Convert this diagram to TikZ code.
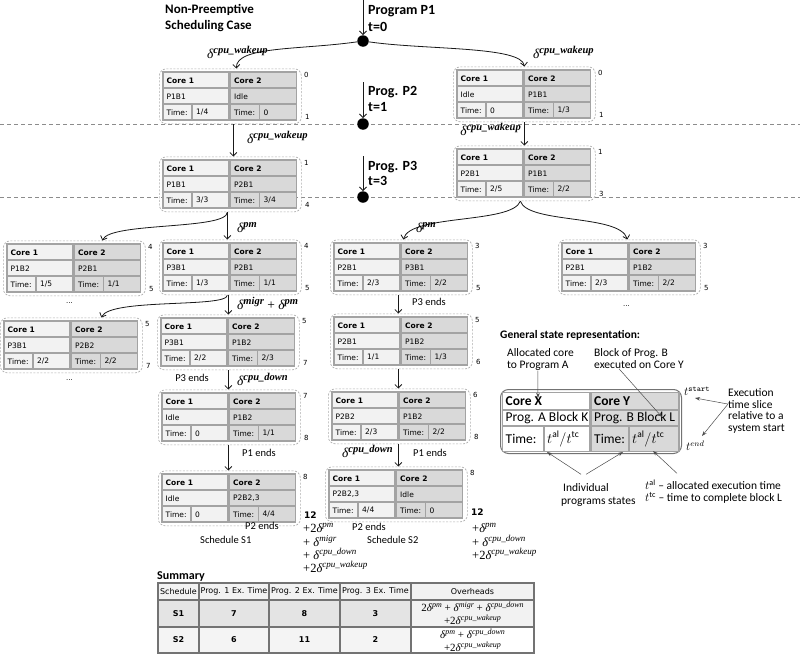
\documentclass[tikz,border=0pt]{standalone}
\usepackage{fontspec}
\setmainfont{Carlito}
\newfontfamily\cellfont{DejaVu Sans}
\newfontfamily\dfont{Liberation Serif}
\usetikzlibrary{arrows.meta,calc}
\definecolor{cA}{HTML}{F2F2F2}
\definecolor{cB}{HTML}{D9D9D9}
\definecolor{cline}{HTML}{A3A3A3}
\definecolor{odash}{HTML}{ADADAD}
\definecolor{hdash}{HTML}{8C8C8C}
\definecolor{sumA}{HTML}{E4E4E4}
\definecolor{sumB}{HTML}{F4F4F4}

\newcommand{\dlt}[1]{{\dfont\fontsize{13.5}{13.5}\selectfont\itshape δ\raisebox{5pt}{\fontsize{10.5}{10.5}\selectfont\bfseries\itshape #1}}}
\newcommand{\ovl}[2]{{\dfont\fontsize{11}{11}\selectfont #1\textit{δ}\raisebox{4pt}{\fontsize{8}{8}\selectfont\itshape #2}}}
\newcommand{\ovb}[2]{{\dfont\fontsize{12.5}{12.5}\selectfont #1\textit{δ}\raisebox{4.5pt}{\fontsize{9}{9}\selectfont\itshape #2}}}
\newcommand{\cellsz}{\cellfont\fontsize{7.5}{9}\selectfont}

\newcommand{\stbox}[9]{%
  \node[obox,anchor=north west] (#1) at (#2-4,#3-3.5) {};
  \fill[cA] (#2,#3) rectangle ++(66,48);
  \fill[cB] (#2+67.5,#3) rectangle ++(66,48);
  \draw[cl] (#2,#3) rectangle ++(66,48) (#2,#3+16) -- ++(66,0) (#2,#3+32) -- ++(66,0) (#2+29,#3+32) -- ++(0,16);
  \draw[cl] (#2+67.5,#3) rectangle ++(66,48) (#2+67.5,#3+16) -- ++(66,0) (#2+67.5,#3+32) -- ++(66,0) (#2+96.5,#3+32) -- ++(0,16);
  \node[ct,font=\cellsz\bfseries] (#1h1) at (#2+3.5,#3+8.5) {Core 1};
  \node[ct] (#1p1) at (#2+3.5,#3+24.5) {#4};
  \node[ct] (#1t1) at (#2+3.5,#3+40.5) {Time:};
  \node[ct] (#1v1) at (#2+33,#3+40.5) {#5};
  \node[ct,font=\cellsz\bfseries] (#1h2) at (#2+71,#3+8.5) {Core 2};
  \node[ct] (#1p2) at (#2+71,#3+24.5) {#6};
  \node[ct] (#1t2) at (#2+71,#3+40.5) {Time:};
  \node[ct] (#1v2) at (#2+100.5,#3+40.5) {#7};
  \node[nt] (#1s) at (#2+141,#3+3) {#8};
  \node[nt] (#1e) at (#2+142,#3+45) {#9};
}

\begin{document}
\begin{tikzpicture}[x=1pt,y=-1pt,
 obox/.style={draw=odash,line width=0.7pt,dash pattern=on 2pt off 1.5pt,rounded corners=7pt,minimum width=142pt,minimum height=55pt,inner sep=0pt},
 cl/.style={draw=cline,line width=1.3pt},
 ct/.style={anchor=west,inner sep=0pt,font=\cellsz},
 nt/.style={anchor=west,inner sep=0pt,font=\cellfont\fontsize{7}{8}\selectfont},
 arr/.style={draw=black!90,line width=0.8pt,-{Straight Barb[length=3.5pt,width=7pt]}},
 larr/.style={draw=black!70,line width=0.5pt,-{Stealth[length=5pt,width=3.5pt]}},
 hd/.style={draw=hdash,line width=0.8pt,dash pattern=on 4pt off 3pt},
 dot/.style={circle,fill=black,minimum size=11.5pt,inner sep=0pt},
 big/.style={anchor=base west,inner sep=0pt,font=\fontsize{14}{16}\selectfont\bfseries},
 ttl/.style={anchor=base west,inner sep=0pt,font=\fontsize{13}{15}\selectfont\bfseries},
 lb/.style={anchor=west,inner sep=0pt,font=\fontsize{10.5}{12}\selectfont},
 lg/.style={anchor=base west,inner sep=0pt,font=\fontsize{11.5}{13}\selectfont},
 lt/.style={anchor=west,inner sep=0pt,font=\fontsize{13.5}{15}\selectfont},
 dl/.style={anchor=west,inner sep=0pt},
 stk/.style={anchor=west,inner sep=0pt},
 th/.style={inner sep=0pt,font=\cellfont\fontsize{8}{9}\selectfont},
 tb/.style={inner sep=0pt,font=\cellfont\fontsize{8}{9}\selectfont\bfseries},
 tl/.style={draw=black!55,line width=1.2pt},
]
\fill[white] (0,0) rectangle (800,656);
\useasboundingbox (0,0) rectangle (800,656);

% timeline
\coordinate (h1a) at (0,124); \coordinate (h1b) at (800,124);
\coordinate (h2a) at (0,197); \coordinate (h2b) at (800,197);
\draw[hd] (h1a) -- (h1b);
\draw[hd] (h2a) -- (h2b);
\node[dot] (d0) at (363,41) {};
\node[dot] (d1) at (363,124) {};
\node[dot] (d2) at (363,197) {};
\coordinate (s0) at (363,0); \coordinate (s1) at (363,82); \coordinate (s2) at (363,156);
\draw[arr] (s0) -- (d0);
\draw[arr] (s1) -- (d1);
\draw[arr] (s2) -- (d2);
\node[big] (p1a) at (368,14.5) {Program P1};
\node[big] (p1b) at (368,31) {t=0};
\node[big] (p2a) at (368,95.5) {Prog. P2};
\node[big] (p2b) at (368,111) {t=1};
\node[big] (p3a) at (368,170) {Prog. P3};
\node[big] (p3b) at (368,185) {t=3};
\node[ttl] (tt1) at (165,13.5) {Non-Preemptive};
\node[ttl] (tt2) at (165,29.5) {Scheduling Case};

% state boxes
\stbox{A}{163}{72}{P1B1}{1/4}{Idle}{0}{0}{1}
\stbox{B}{457}{70}{Idle}{0}{P1B1}{1/3}{0}{1}
\stbox{C}{163}{160}{P1B1}{3/3}{P2B1}{3/4}{1}{4}
\stbox{D}{457}{149}{P2B1}{2/5}{P1B1}{2/2}{1}{3}
\stbox{E}{7}{244}{P1B2}{1/5}{P2B1}{1/1}{4}{5}
\stbox{F}{163}{243}{P3B1}{1/3}{P2B1}{1/1}{4}{5}
\stbox{G}{334}{243}{P2B1}{2/3}{P3B1}{2/2}{3}{5}
\stbox{H}{562}{243}{P2B1}{2/3}{P1B2}{2/2}{3}{5}
\stbox{I}{4}{321}{P3B1}{2/2}{P2B2}{2/2}{5}{7}
\stbox{J}{161}{318}{P3B1}{2/2}{P1B2}{2/3}{5}{7}
\stbox{K}{334}{317}{P2B1}{1/1}{P1B2}{1/3}{5}{6}
\stbox{L}{162}{393}{Idle}{0}{P1B2}{1/1}{7}{8}
\stbox{M}{332}{392}{P2B2}{2/3}{P1B2}{2/2}{6}{8}
\stbox{N}{162}{474}{Idle}{0}{P2B2,3}{4/4}{8}{\raisebox{8pt}{\bfseries\fontsize{9}{9}\selectfont 12}}
\stbox{O}{329}{470}{P2B2,3}{4/4}{Idle}{0}{8}{\raisebox{5pt}{\bfseries\fontsize{9}{9}\selectfont 12}}

% connectors
\draw[arr] (d0) .. controls (300,50) and (236,46) .. ([xshift=6pt]A.north);
\draw[arr] (d0) .. controls (425,50) and (522,46) .. (B.north);
\draw[arr] ([xshift=3pt]A.south) -- ([xshift=3pt]C.north);
\draw[arr] (B.south) -- (D.north);
\draw[arr] ([xshift=-3pt]C.south) .. controls (227,230) and (110,222) .. ([xshift=28pt]E.north);
\draw[arr] ([xshift=-3pt]C.south) -- ([xshift=-3pt]F.north);
\draw[arr] ([xshift=-4pt]D.south) .. controls (512,224) and (410,214) .. ([xshift=2pt]G.north);
\draw[arr] ([xshift=-4pt]D.south) .. controls (528,224) and (620,214) .. ([xshift=-2pt]H.north);
\draw[arr] ([xshift=-3pt]F.south) .. controls (227,308) and (110,298) .. ([xshift=30pt]I.north);
\draw[arr] ([xshift=-2pt]F.south) -- (J.north);
\draw[arr] ([xshift=-3pt]G.south) -- ([xshift=-3pt]K.north);
\draw[arr] (J.south) -- ([xshift=-1pt]L.north);
\draw[arr] ([xshift=-3pt]K.south) -- ([xshift=-1pt]M.north);
\draw[arr] ([xshift=-1pt]L.south) -- ([xshift=-1pt]N.north);
\draw[arr] ([xshift=-1pt]M.south) -- ([xshift=2pt]O.north);

% connector labels
\node[dl] (lw1) at (207,52) {\dlt{cpu\_wakeup}};
\node[dl] (lw2) at (533,52) {\dlt{cpu\_wakeup}};
\node[dl] (lw3) at (247,137) {\dlt{cpu\_wakeup}};
\node[dl,anchor=east] (lw4) at (521,129) {\dlt{cpu\_wakeup}};
\node[dl] (lp1) at (237,228) {\dlt{pm}};
\node[dl] (lp2) at (416,228) {\dlt{pm}};
\node[dl] (lmg) at (237,303) {\dlt{migr}{\dfont\fontsize{13.5}{13.5}\selectfont\ +\ }\dlt{pm}};
\node[dl] (ld1) at (237,379) {\dlt{cpu\_down}};
\node[dl,anchor=east] (ld2) at (393,451) {\dlt{cpu\_down}};
\node[lb] (e1) at (412,302) {P3 ends};
\node[lb,anchor=east] (e2) at (209,378) {P3 ends};
\node[lb] (e3) at (242,453) {P1 ends};
\node[lb] (e4) at (413,453) {P1 ends};
\node[lb] (e5) at (245,526) {P2 ends};
\node[lb] (e6) at (352,527) {P2 ends};
\node[lb] (sc1) at (200,540) {Schedule S1};
\node[lb] (sc2) at (367,540) {Schedule S2};
\node[nt] (el1) at (66,303) {...};
\node[nt] (el2) at (66,380) {...};
\node[nt] (el3) at (623,306) {...};

% overhead stacks
\node[stk] (o1a) at (303,528) {\ovb{+2}{pm}};
\node[stk] (o1b) at (303,541) {\ovb{+ }{migr}};
\node[stk] (o1c) at (303,554) {\ovb{+ }{cpu\_down}};
\node[stk] (o1d) at (303,567) {\ovb{+2}{cpu\_wakeup}};
\node[stk] (o2a) at (472,528) {\ovb{+}{pm}};
\node[stk] (o2b) at (472,541) {\ovb{+ }{cpu\_down}};
\node[stk] (o2c) at (472,554) {\ovb{+2}{cpu\_wakeup}};

% summary
\node[anchor=base west,inner sep=0pt,font=\fontsize{12}{14}\selectfont\bfseries] (sum) at (157,579) {Summary};
\fill[cA] (158,583) rectangle (534,600);
\fill[sumA] (158,600) rectangle (411,627);
\fill[cA] (411,600) rectangle (534,627);
\fill[sumB] (158,627) rectangle (411,653);
\draw[tl] (158,583) rectangle (534,653) (158,600) -- (534,600) (158,627) -- (534,627)
  (199,583) -- (199,653) (269,583) -- (269,653) (340,583) -- (340,653) (411,583) -- (411,653);
\node[th] (hs) at (178.5,591.5) {Schedule};
\node[th] (hp1) at (234,591.5) {Prog. 1 Ex. Time};
\node[th] (hp2) at (304.5,591.5) {Prog. 2 Ex. Time};
\node[th] (hp3) at (375.5,591.5) {Prog. 3 Ex. Time};
\node[th] (ho) at (472.5,591.5) {Overheads};
\node[tb] (r1a) at (178.5,613.5) {S1};
\node[tb] (r1b) at (234,613.5) {7};
\node[tb] (r1c) at (304.5,613.5) {8};
\node[tb] (r1d) at (375.5,613.5) {3};
\node[inner sep=0pt] (r1e) at (472.5,607) {\ovl{2}{pm}\ovl{ + }{migr}\ovl{ + }{cpu\_down}};
\node[inner sep=0pt] (r1f) at (472.5,620) {\ovl{+2}{cpu\_wakeup}};
\node[tb] (r2a) at (178.5,640) {S2};
\node[tb] (r2b) at (234,640) {6};
\node[tb] (r2c) at (304.5,640) {11};
\node[tb] (r2d) at (375.5,640) {2};
\node[inner sep=0pt] (r2e) at (472.5,634) {\ovl{}{pm}\ovl{ + }{cpu\_down}};
\node[inner sep=0pt] (r2f) at (472.5,647) {\ovl{+2}{cpu\_wakeup}};

% legend
\node[lg,font=\fontsize{11.5}{13}\selectfont\bfseries] (gsr) at (500,338) {General state representation:};
\node[lg] (al1) at (507,356.5) {Allocated core};
\node[lg] (al2) at (507,368.5) {to Program A};
\node[lg] (bl1) at (594,356.5) {Block of Prog. B};
\node[lg] (bl2) at (594,368.5) {executed on Core Y};
\node[draw=black!55,line width=1pt,rounded corners=8pt,minimum width=181pt,minimum height=64pt,inner sep=0pt,anchor=north west] (lgb) at (500,389) {};
\fill[white] (502.5,392.5) rectangle (589.5,451.5);
\fill[cB] (591,392.5) rectangle (679,451.5);
\draw[cl] (502.5,392.5) rectangle (589.5,451.5) (502.5,410) -- (589.5,410) (502.5,426) -- (589.5,426) (544,426) -- (544,451.5);
\draw[cl] (591,392.5) rectangle (679,451.5) (591,410) -- (679,410) (591,426) -- (679,426) (629,426) -- (629,451.5);
\node[lt,font=\fontsize{13.5}{15}\selectfont\bfseries] (lx1) at (505.5,401.5) {Core X};
\node[lt] (lx2) at (505.5,418) {Prog. A Block K};
\node[lt] (lx3) at (505.5,439) {Time:};
\node[lt] (lx4) at (547,439) {$t^{\mathrm{al}}/t^{\mathrm{tc}}$};
\node[lt,font=\fontsize{13.5}{15}\selectfont\bfseries] (ly1) at (594,401.5) {Core Y};
\node[lt] (ly2) at (594,418) {Prog. B Block L};
\node[lt] (ly3) at (594,439) {Time:};
\node[lt] (ly4) at (632,439) {$t^{\mathrm{al}}/t^{\mathrm{tc}}$};
\node[dl,font=\fontsize{12}{14}\selectfont] (ts) at (684,391) {$t^{\mathtt{start}}$};
\node[dl,font=\fontsize{12}{14}\selectfont] (te) at (686,446) {$t^{end}$};
\node[lg] (ex1) at (728,396.5) {Execution};
\node[lg] (ex2) at (728,408) {time slice};
\node[lg] (ex3) at (728,419.5) {relative to a};
\node[lg] (ex4) at (728,431) {system start};
\node[lg] (iv1) at (563,491.5) {Individual};
\node[lg] (iv2) at (561,504) {programs states};
\node[lg] (ta1) at (645,489.5) {$t^{\mathrm{al}}$ \textendash{} allocated execution time};
\node[lg] (ta2) at (645,501.5) {$t^{\mathrm{tc}}$ \textendash{} time to complete block L};
\coordinate (tgX) at (538,398);
\coordinate (tgL) at (662,417);
\coordinate (tgS) at (695,398);
\coordinate (tgE) at (702,436);
\coordinate (tgI1) at (547,452);
\coordinate (tgI2) at (623,452);
\coordinate (tgA) at (653,451);
\draw[larr] (al2) -- (tgX);
\draw[larr] ([xshift=-20pt]bl2.south) -- (tgL);
\draw[larr] (ex2.west) -- (tgS);
\draw[larr] (ex2.west) -- (tgE);
\draw[larr] ([xshift=-5pt,yshift=9pt]iv1.north) -- (tgI1);
\draw[larr] ([yshift=9pt]iv1.north) -- (tgI2);
\draw[larr] ([xshift=32pt,yshift=6pt]ta1.north west) -- (tgA);
\end{tikzpicture}
\end{document}
